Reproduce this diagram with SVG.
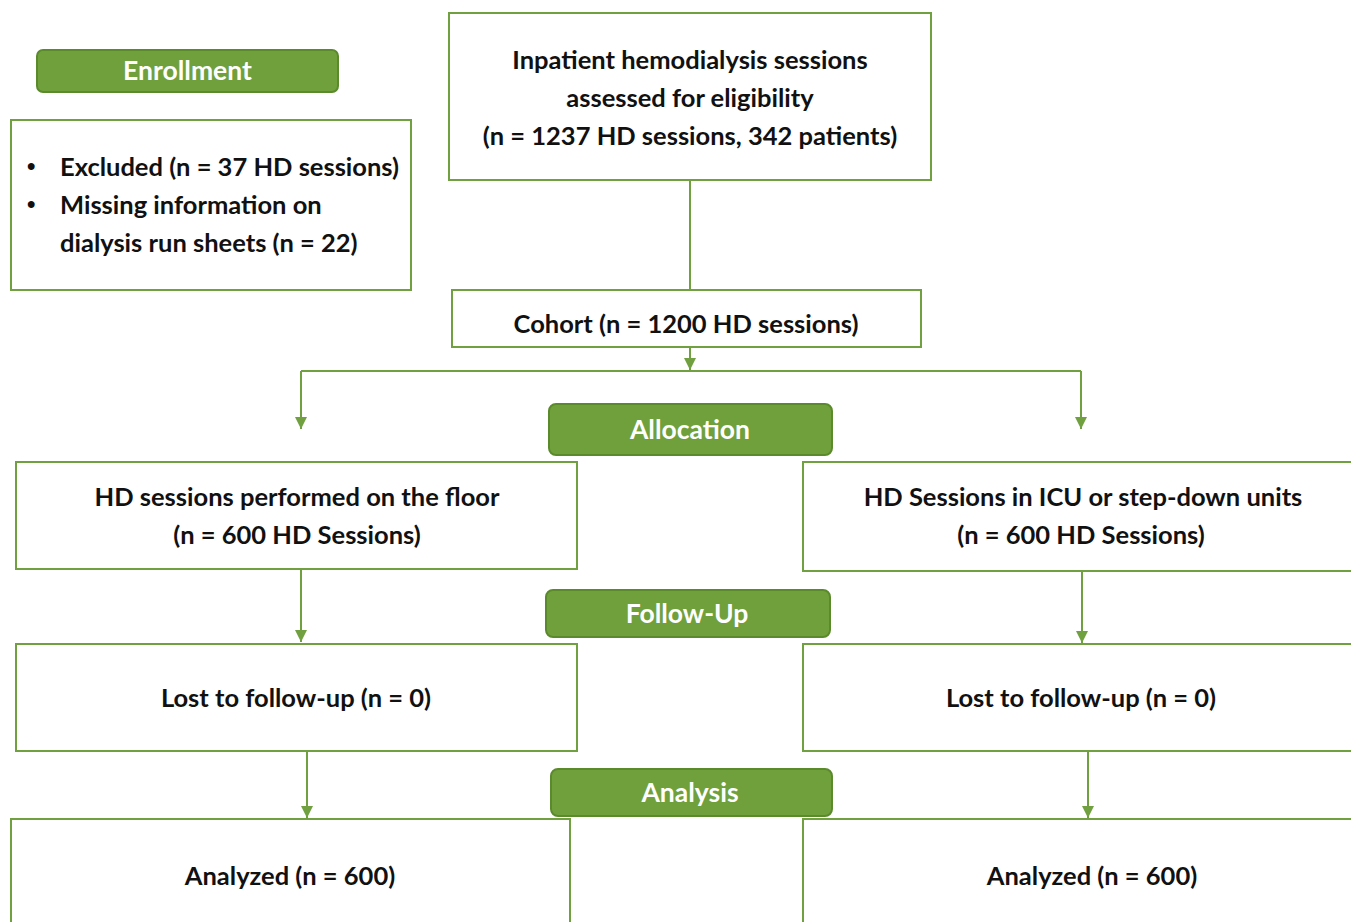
<svg xmlns="http://www.w3.org/2000/svg" width="1351" height="922" viewBox="0 0 1351 922">
<style>
.box{fill:#fff;stroke:#70a040;stroke-width:2}
.hdr{fill:#70a03c;stroke:#5b8a2c;stroke-width:2}
.t{font-family:Lato,"Open Sans","Liberation Sans",sans-serif;font-weight:bold;font-size:25.5px;fill:#111;text-anchor:middle}
.h{font-family:Lato,"Open Sans","Liberation Sans",sans-serif;font-weight:bold;font-size:26.5px;fill:#fff;text-anchor:middle}
.l{text-anchor:start}
.b{font-family:"Liberation Sans",sans-serif;font-weight:bold;font-size:24px;fill:#111}
.c{fill:none;stroke:#70a040;stroke-width:2}
</style>
<defs>
<marker id="arr" viewBox="0 0 10 10" refX="10" refY="5" markerWidth="6" markerHeight="6" orient="auto" markerUnits="strokeWidth">
<path d="M0,0 L10,5 L0,10 z" fill="#70a040"/>
</marker>
</defs>
<g id="connectors">
<path class="c" d="M690,181 V290"/>
<path class="c" d="M690,348 V370" marker-end="url(#arr)"/>
<path class="c" d="M301,371 H1081"/>
<path class="c" d="M301,371 V429" marker-end="url(#arr)"/>
<path class="c" d="M1081,371 V429" marker-end="url(#arr)"/>
<path class="c" d="M301,570 V642" marker-end="url(#arr)"/>
<path class="c" d="M1082,572 V643" marker-end="url(#arr)"/>
<path class="c" d="M307,752 V818" marker-end="url(#arr)"/>
<path class="c" d="M1088,752 V818" marker-end="url(#arr)"/>
</g>
<g id="enrollment">
<rect class="hdr" x="37" y="50" width="301" height="42" rx="6"/>
<text class="h" x="187.5" y="80">Enrollment</text>
</g>
<g id="excluded">
<rect class="box" x="11" y="120" width="400" height="170"/>
<text class="b" x="27" y="174">•</text>
<text class="b" x="27" y="212">•</text>
<text class="t l" x="60" y="176">Excluded (n = 37 HD sessions)</text>
<text class="t l" x="60" y="214">Missing information on</text>
<text class="t l" x="60" y="252">dialysis run sheets (n = 22)</text>
</g>
<g id="assessed">
<rect class="box" x="449" y="13" width="482" height="167"/>
<text class="t" x="690" y="69">Inpatient hemodialysis sessions</text>
<text class="t" x="690" y="107">assessed for eligibility</text>
<text class="t" x="690" y="145">(n = 1237 HD sessions, 342 patients)</text>
</g>
<g id="cohort">
<rect class="box" x="452" y="290" width="469" height="57"/>
<text class="t" x="686" y="333">Cohort (n = 1200 HD sessions)</text>
</g>
<g id="allocation">
<rect class="hdr" x="549" y="404" width="283" height="51" rx="7"/>
<text class="h" x="690" y="439">Allocation</text>
</g>
<g id="floor">
<rect class="box" x="16" y="462" width="561" height="107"/>
<text class="t" x="297" y="506">HD sessions performed on the floor</text>
<text class="t" x="297" y="544">(n = 600 HD Sessions)</text>
</g>
<g id="icu">
<rect class="box" x="803" y="462" width="560" height="109"/>
<text class="t" x="1083" y="506">HD Sessions in ICU  or step-down units</text>
<text class="t" x="1081" y="544">(n = 600 HD Sessions)</text>
</g>
<g id="followup">
<rect class="hdr" x="546" y="590" width="284" height="47" rx="7"/>
<text class="h" x="687" y="623">Follow-Up</text>
</g>
<g id="lost-left">
<rect class="box" x="16" y="644" width="561" height="107"/>
<text class="t" x="296" y="707">Lost to follow-up (n = 0)</text>
</g>
<g id="lost-right">
<rect class="box" x="803" y="644" width="560" height="107"/>
<text class="t" x="1081" y="707">Lost to follow-up (n = 0)</text>
</g>
<g id="analysis">
<rect class="hdr" x="551" y="769" width="281" height="47" rx="7"/>
<text class="h" x="690" y="802">Analysis</text>
</g>
<g id="analyzed-left">
<rect class="box" x="11" y="819" width="559" height="120"/>
<text class="t" x="290" y="885">Analyzed (n = 600)</text>
</g>
<g id="analyzed-right">
<rect class="box" x="803" y="819" width="560" height="120"/>
<text class="t" x="1092" y="885">Analyzed (n = 600)</text>
</g>
</svg>
